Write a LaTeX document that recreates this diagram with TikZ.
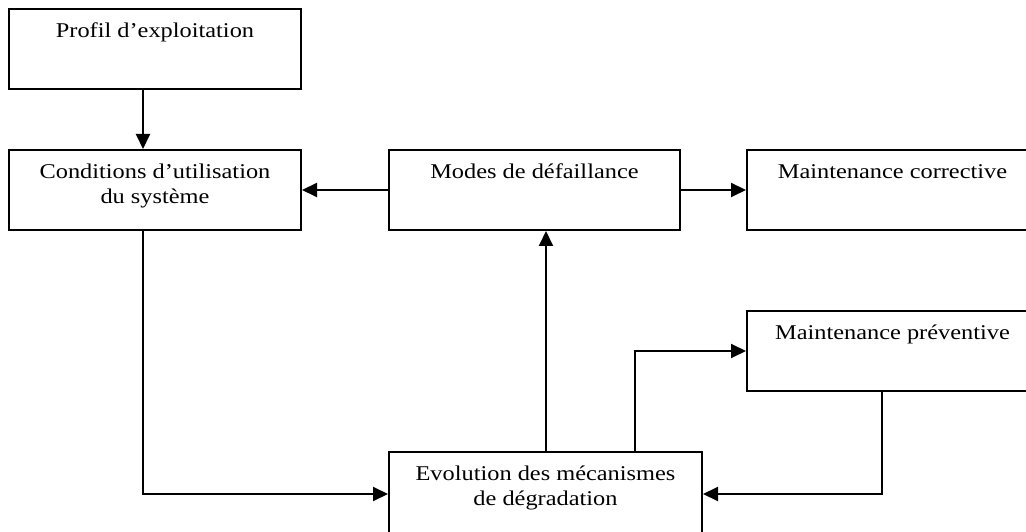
\documentclass[tikz,border=0pt]{standalone}
\usepackage{fontspec}
\setmainfont{Liberation Serif}[FakeStretch=1.16]
\usetikzlibrary{arrows.meta}
\begin{document}
\begin{tikzpicture}[x=1pt,y=1pt,
  box/.style={draw, line width=2pt, rectangle, minimum height=80pt, inner sep=0pt},
  label/.style={anchor=north, inner sep=0pt, align=center,
    font=\fontsize{21}{25}\selectfont},
  link/.style={line width=2pt, -{Triangle[length=15pt,width=14pt]}}]
  \useasboundingbox (0,0) rectangle (1026,531);
  \clip (0,0) rectangle (1026,531);

  % boxes
  \node[box, minimum width=292pt] (prof) at (155,482) {};
  \node[box, minimum width=292pt] (cond) at (155,341) {};
  \node[box, minimum width=291pt] (modes) at (534.5,341) {};
  \node[box, minimum width=291pt] (corr) at (892.5,341) {};
  \node[box, minimum width=291pt] (prev) at (892.5,180) {};
  \node[box, minimum width=313pt, minimum height=84pt] (evol) at (545.5,37) {};

  % texts, hung from the top edge of each box
  \node[label] (tprof) at ([yshift=-15pt]prof.north) {Profil d’exploitation};
  \node[label] (tcond) at ([yshift=-15pt]cond.north) {Conditions d’utilisation\\du système};
  \node[label] (tmodes) at ([yshift=-15pt]modes.north) {Modes de défaillance};
  \node[label] (tcorr) at ([yshift=-15pt]corr.north) {Maintenance corrective};
  \node[label] (tprev) at ([yshift=-15pt]prev.north) {Maintenance préventive};
  \node[label] (tevol) at ([yshift=-15pt]evol.north) {Evolution des mécanismes\\de dégradation};

  % connectors
  \draw[link] ([xshift=-12pt]prof.south) -- ([xshift=-12pt]cond.north);
  \draw[link] (modes.west) -- (cond.east);
  \draw[link] (modes.east) -- (corr.west);
  \draw[link] ([xshift=0.5pt]evol.north) -- ([xshift=0.5pt]evol.north |- modes.south);
  \draw[link] ([xshift=-12pt]cond.south) |- (evol.west);
  \draw[link] ([xshift=89.5pt]evol.north) |- (prev.west);
  \draw[link] ([xshift=-10.5pt]prev.south) |- (evol.east);
\end{tikzpicture}
\end{document}
